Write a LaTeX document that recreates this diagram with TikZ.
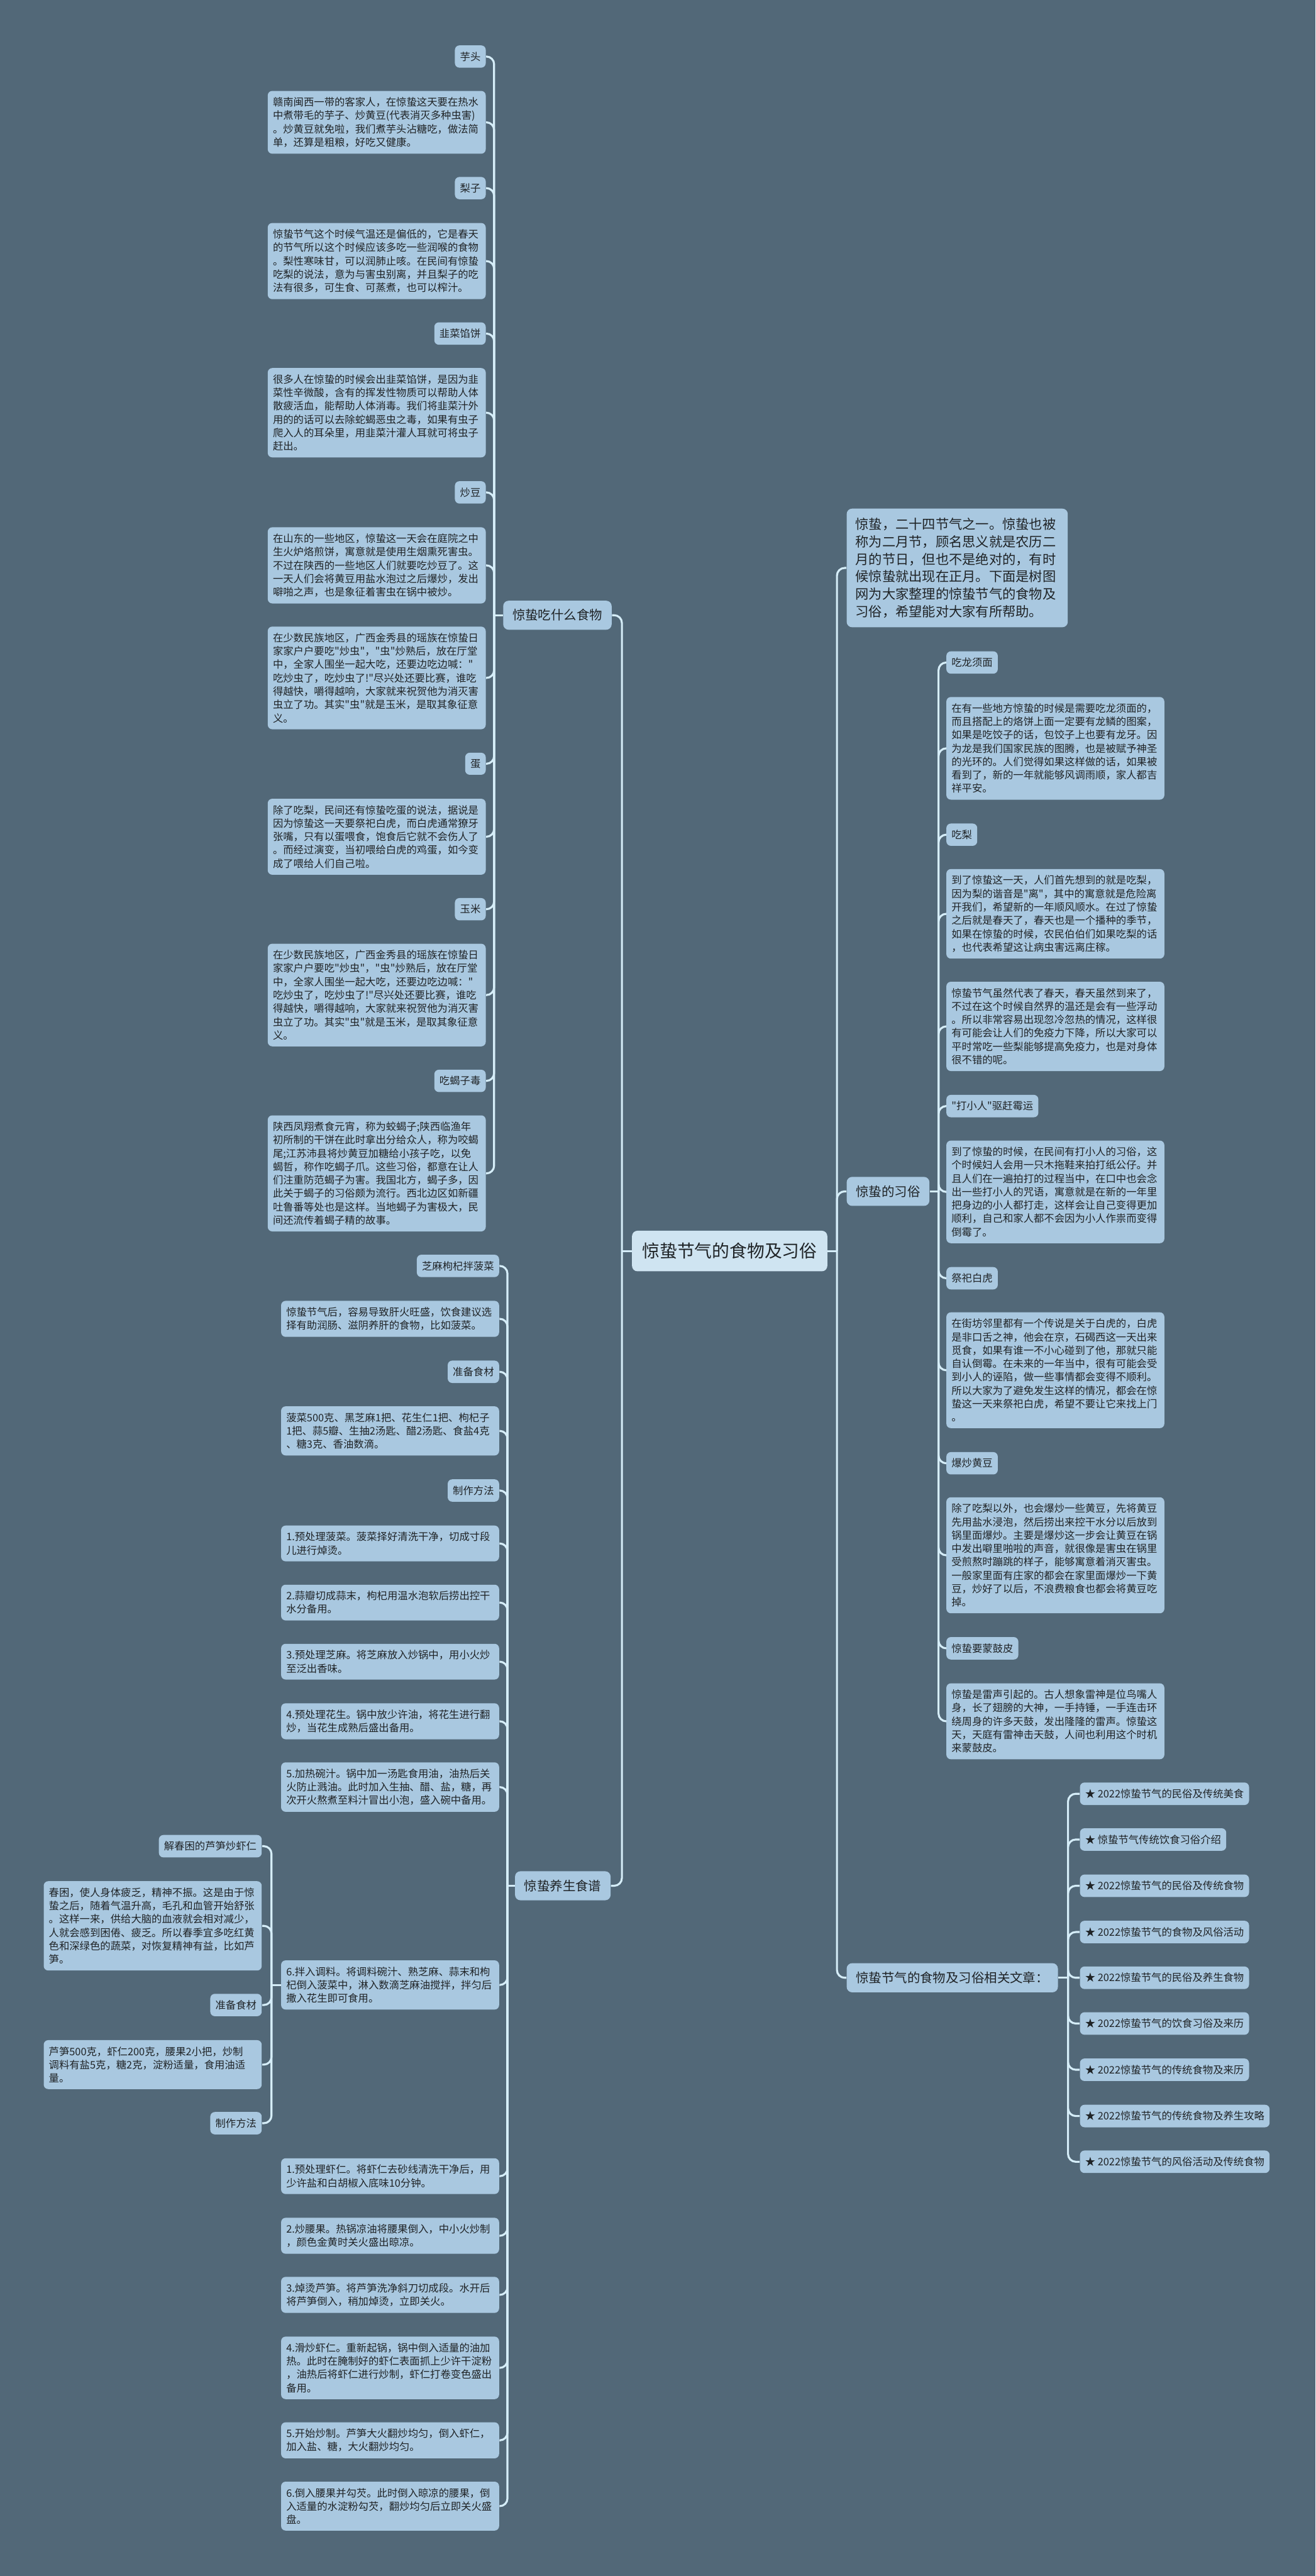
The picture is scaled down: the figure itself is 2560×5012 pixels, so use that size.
\documentclass[tikz,border=0pt]{standalone}
\usepackage{fontspec}
\newfontfamily\cjk{Noto Sans CJK SC}
\usepackage{tikz}

\definecolor{bgclr}{HTML}{526878}
\definecolor{boxclr}{HTML}{A9C8E0}
\definecolor{rootclr}{HTML}{CFE4F1}
\definecolor{lineclr}{HTML}{D5EDF8}
\definecolor{txtclr}{HTML}{1F2326}

\begin{document}
\begin{tikzpicture}[x=0.01cm, y=-0.01cm,
  rootbox/.style={fill=rootclr, rounded corners=3pt, inner xsep=0.2cm, inner ysep=0.235cm, text=txtclr, font=\cjk\fontsize{9.67pt}{11pt}\selectfont},
  mainbox/.style={fill=boxclr, rounded corners=3pt, inner xsep=0.18cm, inner ysep=0.165cm, text=txtclr, font=\cjk\fontsize{7.11pt}{9pt}\selectfont},
  tagbox/.style={fill=boxclr, rounded corners=2.5pt, inner xsep=0.1cm, inner ysep=0.125cm, text=txtclr, font=\cjk\fontsize{5.69pt}{7.4pt}\selectfont},
  notebox/.style={tagbox, text width=4.04cm, align=left},
  introbox/.style={mainbox, text width=3.96cm, inner xsep=0.17cm, inner ysep=0.18cm, align=left, font=\cjk\fontsize{7.4pt}{9.67pt}\selectfont},
  wire/.style={draw=lineclr, line width=1.1pt, rounded corners=0.15cm}]

  \useasboundingbox (0,0) rectangle (2560,5012);
  \fill[bgclr] (0,0) rectangle (2560,5012);

  % centre and main branches
  \node[rootbox] (root) at (1420,2434) {惊蛰节气的食物及习俗};
  \node[mainbox, anchor=east] (eat) at (1191,1197) {惊蛰吃什么食物};
  \node[mainbox, anchor=east] (diet) at (1189,3669) {惊蛰养生食谱};
  \node[introbox, anchor=west] (intro) at (1647,1105) {惊蛰，二十四节气之一。惊蛰也被\\称为二月节，顾名思义就是农历二\\月的节日，但也不是绝对的，有时\\候惊蛰就出现在正月。下面是树图\\网为大家整理的惊蛰节气的食物及\\习俗，希望能对大家有所帮助。};
  \node[mainbox, anchor=west] (custom) at (1647,2318) {惊蛰的习俗};
  \node[mainbox, anchor=west] (related) at (1647,3848) {惊蛰节气的食物及习俗相关文章：};

  % what to eat
  \node[tagbox, anchor=east] (taro) at (946,110) {芋头};
  \node[notebox, anchor=east] (taroTxt) at (946,238) {赣南闽西一带的客家人，在惊蛰这天要在热水\\中煮带毛的芋子、炒黄豆(代表消灭多种虫害)\\。炒黄豆就免啦，我们煮芋头沾糖吃，做法简\\单，还算是粗粮，好吃又健康。};
  \node[tagbox, anchor=east] (pear) at (946,366) {梨子};
  \node[notebox, anchor=east] (pearTxt) at (946,508) {惊蛰节气这个时候气温还是偏低的，它是春天\\的节气所以这个时候应该多吃一些润喉的食物\\。梨性寒味甘，可以润肺止咳。在民间有惊蛰\\吃梨的说法，意为与害虫别离，并且梨子的吃\\法有很多，可生食、可蒸煮，也可以榨汁。};
  \node[tagbox, anchor=east] (leek) at (946,649) {韭菜馅饼};
  \node[notebox, anchor=east] (leekTxt) at (946,803) {很多人在惊蛰的时候会出韭菜馅饼，是因为韭\\菜性辛微酸，含有的挥发性物质可以帮助人体\\散疲活血，能帮助人体消毒。我们将韭菜汁外\\用的的话可以去除蛇蝎恶虫之毒，如果有虫子\\爬入人的耳朵里，用韭菜汁灌人耳就可将虫子\\赶出。};
  \node[tagbox, anchor=east] (bean) at (946,958) {炒豆};
  \node[notebox, anchor=east] (beanTxt) at (946,1100) {在山东的一些地区，惊蛰这一天会在庭院之中\\生火炉烙煎饼，寓意就是使用生烟熏死害虫。\\不过在陕西的一些地区人们就要吃炒豆了。这\\一天人们会将黄豆用盐水泡过之后爆炒，发出\\噼啪之声，也是象征着害虫在锅中被炒。};
  \node[notebox, anchor=east] (bugTxt) at (946,1319) {在少数民族地区，广西金秀县的瑶族在惊蛰日\\家家户户要吃"炒虫"，"虫"炒熟后，放在厅堂\\中，全家人围坐一起大吃，还要边吃边喊："\\吃炒虫了，吃炒虫了!"尽兴处还要比赛，谁吃\\得越快，嚼得越响，大家就来祝贺他为消灭害\\虫立了功。其实"虫"就是玉米，是取其象征意\\义。};
  \node[tagbox, anchor=east] (egg) at (946,1486) {蛋};
  \node[notebox, anchor=east] (eggTxt) at (946,1628) {除了吃梨，民间还有惊蛰吃蛋的说法，据说是\\因为惊蛰这一天要祭祀白虎，而白虎通常獠牙\\张嘴，只有以蛋喂食，饱食后它就不会伤人了\\。而经过演变，当初喂给白虎的鸡蛋，如今变\\成了喂给人们自己啦。};
  \node[tagbox, anchor=east] (corn) at (946,1769) {玉米};
  \node[notebox, anchor=east] (cornTxt) at (946,1936) {在少数民族地区，广西金秀县的瑶族在惊蛰日\\家家户户要吃"炒虫"，"虫"炒熟后，放在厅堂\\中，全家人围坐一起大吃，还要边吃边喊："\\吃炒虫了，吃炒虫了!"尽兴处还要比赛，谁吃\\得越快，嚼得越响，大家就来祝贺他为消灭害\\虫立了功。其实"虫"就是玉米，是取其象征意\\义。};
  \node[tagbox, anchor=east] (scorp) at (946,2103) {吃蝎子毒};
  \node[notebox, anchor=east] (scorpTxt) at (946,2283) {陕西凤翔煮食元宵，称为蛟蝎子;陕西临渔年\\初所制的干饼在此时拿出分给众人，称为咬蝎\\尾;江苏沛县将炒黄豆加糖给小孩子吃，以免\\蝎哲，称作吃蝎子爪。这些习俗，都意在让人\\们注重防范蝎子为害。我国北方，蝎子多，因\\此关于蝎子的习俗颇为流行。西北边区如新疆\\吐鲁番等处也是这样。当地蝎子为害极大，民\\间还流传着蝎子精的故事。};

  % recipes
  \node[tagbox, anchor=east] (spin) at (972,2463) {芝麻枸杞拌菠菜};
  \node[notebox, anchor=east] (spinTxt) at (972,2566) {惊蛰节气后，容易导致肝火旺盛，饮食建议选\\择有助润肠、滋阴养肝的食物，比如菠菜。};
  \node[tagbox, anchor=east] (spinMat) at (972,2669) {准备食材};
  \node[notebox, anchor=east] (spinMatTxt) at (972,2784) {菠菜500克、黑芝麻1把、花生仁1把、枸杞子\\1把、蒜5瓣、生抽2汤匙、醋2汤匙、食盐4克\\、糖3克、香油数滴。};
  \node[tagbox, anchor=east] (spinWay) at (972,2900) {制作方法};
  \node[notebox, anchor=east] (s1) at (972,3003) {1.预处理菠菜。菠菜择好清洗干净，切成寸段\\儿进行焯烫。};
  \node[notebox, anchor=east] (s2) at (972,3118) {2.蒜瓣切成蒜末，枸杞用温水泡软后捞出控干\\水分备用。};
  \node[notebox, anchor=east] (s3) at (972,3233) {3.预处理芝麻。将芝麻放入炒锅中，用小火炒\\至泛出香味。};
  \node[notebox, anchor=east] (s4) at (972,3349) {4.预处理花生。锅中放少许油，将花生进行翻\\炒，当花生成熟后盛出备用。};
  \node[notebox, anchor=east] (s5) at (972,3477) {5.加热碗汁。锅中加一汤匙食用油，油热后关\\火防止溅油。此时加入生抽、醋、盐，糖，再\\次开火熬煮至料汁冒出小泡，盛入碗中备用。};
  \node[notebox, anchor=east] (s6) at (972,3862) {6.拌入调料。将调料碗汁、熟芝麻、蒜末和枸\\杞倒入菠菜中，淋入数滴芝麻油搅拌，拌匀后\\撒入花生即可食用。};
  \node[notebox, anchor=east] (p1) at (972,4234) {1.预处理虾仁。将虾仁去砂线清洗干净后，用\\少许盐和白胡椒入底味10分钟。};
  \node[notebox, anchor=east] (p2) at (972,4350) {2.炒腰果。热锅凉油将腰果倒入，中小火炒制\\，颜色金黄时关火盛出晾凉。};
  \node[notebox, anchor=east] (p3) at (972,4465) {3.焯烫芦笋。将芦笋洗净斜刀切成段。水开后\\将芦笋倒入，稍加焯烫，立即关火。};
  \node[notebox, anchor=east] (p4) at (972,4607) {4.滑炒虾仁。重新起锅，锅中倒入适量的油加\\热。此时在腌制好的虾仁表面抓上少许干淀粉\\，油热后将虾仁进行炒制，虾仁打卷变色盛出\\备用。};
  \node[notebox, anchor=east] (p5) at (972,4748) {5.开始炒制。芦笋大火翻炒均匀，倒入虾仁，\\加入盐、糖，大火翻炒均匀。};
  \node[notebox, anchor=east] (p6) at (972,4876) {6.倒入腰果并勾芡。此时倒入晾凉的腰果，倒\\入适量的水淀粉勾芡，翻炒均匀后立即关火盛\\盘。};

  \node[tagbox, anchor=east] (asp) at (510,3592) {解春困的芦笋炒虾仁};
  \node[notebox, anchor=east] (aspTxt) at (510,3747) {春困，使人身体疲乏，精神不振。这是由于惊\\蛰之后，随着气温升高，毛孔和血管开始舒张\\。这样一来，供给大脑的血液就会相对减少，\\人就会感到困倦、疲乏。所以春季宜多吃红黄\\色和深绿色的蔬菜，对恢复精神有益，比如芦\\笋。};
  \node[tagbox, anchor=east] (aspMat) at (510,3901) {准备食材};
  \node[notebox, anchor=east] (aspMatTxt) at (510,4017) {芦笋500克，虾仁200克，腰果2小把，炒制\\调料有盐5克，糖2克，淀粉适量，食用油适\\量。};
  \node[tagbox, anchor=east] (aspWay) at (510,4131) {制作方法};

  % customs
  \node[tagbox, anchor=west] (noodle) at (1841,1289) {吃龙须面};
  \node[notebox, anchor=west] (noodleTxt) at (1841,1456) {在有一些地方惊蛰的时候是需要吃龙须面的，\\而且搭配上的烙饼上面一定要有龙鳞的图案，\\如果是吃饺子的话，包饺子上也要有龙牙。因\\为龙是我们国家民族的图腾，也是被赋予神圣\\的光环的。人们觉得如果这样做的话，如果被\\看到了，新的一年就能够风调雨顺，家人都吉\\祥平安。};
  \node[tagbox, anchor=west] (pearR) at (1841,1624) {吃梨};
  \node[notebox, anchor=west] (pearR1) at (1841,1778) {到了惊蛰这一天，人们首先想到的就是吃梨，\\因为梨的谐音是"离"，其中的寓意就是危险离\\开我们，希望新的一年顺风顺水。在过了惊蛰\\之后就是春天了，春天也是一个播种的季节，\\如果在惊蛰的时候，农民伯伯们如果吃梨的话\\，也代表希望这让病虫害远离庄稼。};
  \node[notebox, anchor=west] (pearR2) at (1841,1997) {惊蛰节气虽然代表了春天，春天虽然到来了，\\不过在这个时候自然界的温还是会有一些浮动\\。所以非常容易出现忽冷忽热的情况，这样很\\有可能会让人们的免疫力下降，所以大家可以\\平时常吃一些梨能够提高免疫力，也是对身体\\很不错的呢。};
  \node[tagbox, anchor=west] (villain) at (1841,2152) {"打小人"驱赶霉运};
  \node[notebox, anchor=west] (villainTxt) at (1841,2319) {到了惊蛰的时候，在民间有打小人的习俗，这\\个时候妇人会用一只木拖鞋来拍打纸公仔。并\\且人们在一遍拍打的过程当中，在口中也会念\\出一些打小人的咒语，寓意就是在新的一年里\\把身边的小人都打走，这样会让自己变得更加\\顺利，自己和家人都不会因为小人作祟而变得\\倒霉了。};
  \node[tagbox, anchor=west] (tiger) at (1841,2487) {祭祀白虎};
  \node[notebox, anchor=west] (tigerTxt) at (1841,2666) {在街坊邻里都有一个传说是关于白虎的，白虎\\是非口舌之神，他会在京，石碣西这一天出来\\觅食，如果有谁一不小心碰到了他，那就只能\\自认倒霉。在未来的一年当中，很有可能会受\\到小人的诬陷，做一些事情都会变得不顺利。\\所以大家为了避免发生这样的情况，都会在惊\\蛰这一天来祭祀白虎，希望不要让它来找上门\\。};
  \node[tagbox, anchor=west] (soy) at (1841,2847) {爆炒黄豆};
  \node[notebox, anchor=west] (soyTxt) at (1841,3026) {除了吃梨以外，也会爆炒一些黄豆，先将黄豆\\先用盐水浸泡，然后捞出来控干水分以后放到\\锅里面爆炒。主要是爆炒这一步会让黄豆在锅\\中发出噼里啪啦的声音，就很像是害虫在锅里\\受煎熬时蹦跳的样子，能够寓意着消灭害虫。\\一般家里面有庄家的都会在家里面爆炒一下黄\\豆，炒好了以后，不浪费粮食也都会将黄豆吃\\掉。};
  \node[tagbox, anchor=west] (drum) at (1841,3207) {惊蛰要蒙鼓皮};
  \node[notebox, anchor=west] (drumTxt) at (1841,3349) {惊蛰是雷声引起的。古人想象雷神是位鸟嘴人\\身，长了翅膀的大神，一手持锤，一手连击环\\绕周身的许多天鼓，发出隆隆的雷声。惊蛰这\\天，天庭有雷神击天鼓，人间也利用这个时机\\来蒙鼓皮。};

  % related articles
  \node[tagbox, anchor=west] (r1) at (2101,3490) {★ 2022惊蛰节气的民俗及传统美食};
  \node[tagbox, anchor=west] (r2) at (2101,3579) {★ 惊蛰节气传统饮食习俗介绍};
  \node[tagbox, anchor=west] (r3) at (2101,3669) {★ 2022惊蛰节气的民俗及传统食物};
  \node[tagbox, anchor=west] (r4) at (2101,3759) {★ 2022惊蛰节气的食物及风俗活动};
  \node[tagbox, anchor=west] (r5) at (2101,3848) {★ 2022惊蛰节气的民俗及养生食物};
  \node[tagbox, anchor=west] (r6) at (2101,3937) {★ 2022惊蛰节气的饮食习俗及来历};
  \node[tagbox, anchor=west] (r7) at (2101,4027) {★ 2022惊蛰节气的传统食物及来历};
  \node[tagbox, anchor=west] (r8) at (2101,4117) {★ 2022惊蛰节气的传统食物及养生攻略};
  \node[tagbox, anchor=west] (r9) at (2101,4206) {★ 2022惊蛰节气的风俗活动及传统食物};

  % connectors, left side
  \draw[wire] (root.west) -- ++(-19,0);
  \draw[wire] (root.west) ++(-19,0) |- (eat.east);
  \draw[wire] (root.west) ++(-19,0) |- (diet.east);

  \draw[wire] (eat.west) -- ++(-17,0);
  \draw[wire] (eat.west) ++(-17,0) |- (taro.east);
  \draw[wire] (eat.west) ++(-17,0) |- (taroTxt.east);
  \draw[wire] (eat.west) ++(-17,0) |- (pear.east);
  \draw[wire] (eat.west) ++(-17,0) |- (pearTxt.east);
  \draw[wire] (eat.west) ++(-17,0) |- (leek.east);
  \draw[wire] (eat.west) ++(-17,0) |- (leekTxt.east);
  \draw[wire] (eat.west) ++(-17,0) |- (bean.east);
  \draw[wire] (eat.west) ++(-17,0) |- (beanTxt.east);
  \draw[wire] (eat.west) ++(-17,0) |- (bugTxt.east);
  \draw[wire] (eat.west) ++(-17,0) |- (egg.east);
  \draw[wire] (eat.west) ++(-17,0) |- (eggTxt.east);
  \draw[wire] (eat.west) ++(-17,0) |- (corn.east);
  \draw[wire] (eat.west) ++(-17,0) |- (cornTxt.east);
  \draw[wire] (eat.west) ++(-17,0) |- (scorp.east);
  \draw[wire] (eat.west) ++(-17,0) |- (scorpTxt.east);

  \draw[wire] (diet.west) -- ++(-14,0);
  \draw[wire] (diet.west) ++(-14,0) |- (spin.east);
  \draw[wire] (diet.west) ++(-14,0) |- (spinTxt.east);
  \draw[wire] (diet.west) ++(-14,0) |- (spinMat.east);
  \draw[wire] (diet.west) ++(-14,0) |- (spinMatTxt.east);
  \draw[wire] (diet.west) ++(-14,0) |- (spinWay.east);
  \draw[wire] (diet.west) ++(-14,0) |- (s1.east);
  \draw[wire] (diet.west) ++(-14,0) |- (s2.east);
  \draw[wire] (diet.west) ++(-14,0) |- (s3.east);
  \draw[wire] (diet.west) ++(-14,0) |- (s4.east);
  \draw[wire] (diet.west) ++(-14,0) |- (s5.east);
  \draw[wire] (diet.west) ++(-14,0) |- (s6.east);
  \draw[wire] (diet.west) ++(-14,0) |- (p1.east);
  \draw[wire] (diet.west) ++(-14,0) |- (p2.east);
  \draw[wire] (diet.west) ++(-14,0) |- (p3.east);
  \draw[wire] (diet.west) ++(-14,0) |- (p4.east);
  \draw[wire] (diet.west) ++(-14,0) |- (p5.east);
  \draw[wire] (diet.west) ++(-14,0) |- (p6.east);

  \draw[wire] (s6.west) -- ++(-18,0);
  \draw[wire] (s6.west) ++(-18,0) |- (asp.east);
  \draw[wire] (s6.west) ++(-18,0) |- (aspTxt.east);
  \draw[wire] (s6.west) ++(-18,0) |- (aspMat.east);
  \draw[wire] (s6.west) ++(-18,0) |- (aspMatTxt.east);
  \draw[wire] (s6.west) ++(-18,0) |- (aspWay.east);

  % connectors, right side
  \draw[wire] (root.east) -- ++(18,0);
  \draw[wire] (root.east) ++(18,0) |- (intro.west);
  \draw[wire] (root.east) ++(18,0) |- (custom.west);
  \draw[wire] (root.east) ++(18,0) |- (related.west);

  \draw[wire] (custom.east) -- ++(17,0);
  \draw[wire] (custom.east) ++(17,0) |- (noodle.west);
  \draw[wire] (custom.east) ++(17,0) |- (noodleTxt.west);
  \draw[wire] (custom.east) ++(17,0) |- (pearR.west);
  \draw[wire] (custom.east) ++(17,0) |- (pearR1.west);
  \draw[wire] (custom.east) ++(17,0) |- (pearR2.west);
  \draw[wire] (custom.east) ++(17,0) |- (villain.west);
  \draw[wire] (custom.east) ++(17,0) |- (villainTxt.west);
  \draw[wire] (custom.east) ++(17,0) |- (tiger.west);
  \draw[wire] (custom.east) ++(17,0) |- (tigerTxt.west);
  \draw[wire] (custom.east) ++(17,0) |- (soy.west);
  \draw[wire] (custom.east) ++(17,0) |- (soyTxt.west);
  \draw[wire] (custom.east) ++(17,0) |- (drum.west);
  \draw[wire] (custom.east) ++(17,0) |- (drumTxt.west);

  \draw[wire] (related.east) -- ++(19,0);
  \draw[wire] (related.east) ++(19,0) |- (r1.west);
  \draw[wire] (related.east) ++(19,0) |- (r2.west);
  \draw[wire] (related.east) ++(19,0) |- (r3.west);
  \draw[wire] (related.east) ++(19,0) |- (r4.west);
  \draw[wire] (related.east) ++(19,0) |- (r5.west);
  \draw[wire] (related.east) ++(19,0) |- (r6.west);
  \draw[wire] (related.east) ++(19,0) |- (r7.west);
  \draw[wire] (related.east) ++(19,0) |- (r8.west);
  \draw[wire] (related.east) ++(19,0) |- (r9.west);

\end{tikzpicture}
\end{document}
